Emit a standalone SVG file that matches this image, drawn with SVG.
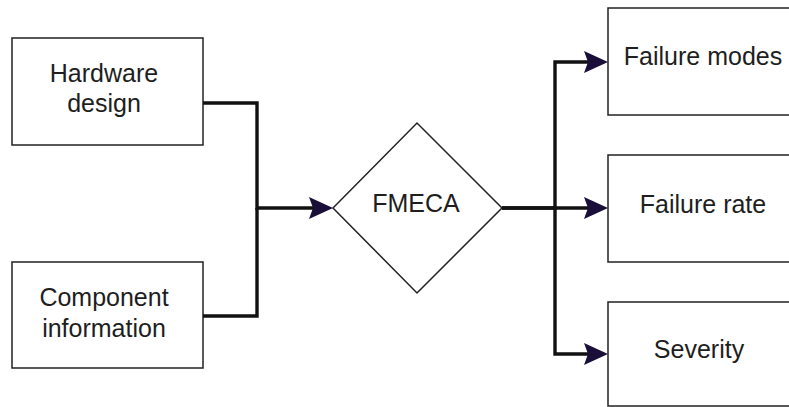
<svg xmlns="http://www.w3.org/2000/svg" width="789" height="407" viewBox="0 0 789 407">
  <style>
    .box { fill: #ffffff; stroke: #222222; stroke-width: 1.5; }
    .lbl { font-family: "Liberation Sans", Arial, sans-serif; font-size: 25px; fill: #1e1e1e; text-anchor: middle; }
    .conn { fill: none; stroke: #111111; stroke-width: 3.4; }
  </style>
  <defs>
    <marker id="arrow" markerUnits="userSpaceOnUse" markerWidth="26" markerHeight="26" refX="20" refY="12" orient="auto">
      <path d="M0,1 L24,12 L0,23 L4,12 Z" fill="#1a0f38"/>
    </marker>
  </defs>
  <rect width="789" height="407" fill="#ffffff"/>

  <g id="hardware-design">
    <rect class="box" x="12" y="38" width="191" height="107"/>
    <text class="lbl" x="104" y="82">Hardware</text>
    <text class="lbl" x="104" y="112">design</text>
  </g>

  <g id="component-information">
    <rect class="box" x="12" y="262" width="191" height="106"/>
    <text class="lbl" x="104" y="306">Component</text>
    <text class="lbl" x="104" y="337">information</text>
  </g>

  <g id="fmeca">
    <polygon class="box" points="333,208 417,123 502,208 417,293"/>
    <text class="lbl" x="416" y="212">FMECA</text>
  </g>

  <g id="failure-modes">
    <rect class="box" x="608" y="8" width="191" height="107"/>
    <text class="lbl" x="703" y="65">Failure modes</text>
  </g>

  <g id="failure-rate">
    <rect class="box" x="608" y="155" width="191" height="107"/>
    <text class="lbl" x="703" y="213">Failure rate</text>
  </g>

  <g id="severity">
    <rect class="box" x="608" y="302" width="191" height="104"/>
    <text class="lbl" x="699" y="358">Severity</text>
  </g>

  <g id="connectors">
    <path class="conn" d="M203,103 H257 V208 H329" marker-end="url(#arrow)"/>
    <path class="conn" d="M203,316 H257 V208"/>
    <path class="conn" d="M502,208 H555 V62 H604" marker-end="url(#arrow)"/>
    <path class="conn" d="M502,208 H604" marker-end="url(#arrow)"/>
    <path class="conn" d="M555,208 V354 H604" marker-end="url(#arrow)"/>
  </g>
</svg>
